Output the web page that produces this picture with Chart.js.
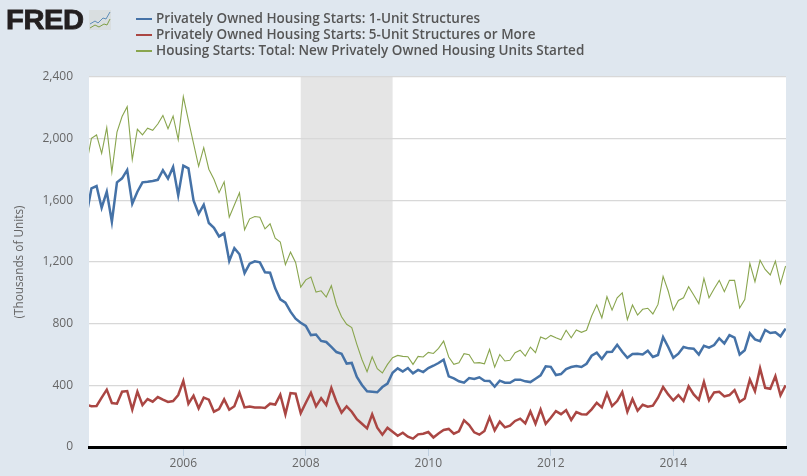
<!DOCTYPE html>
<html>
<head>
<meta charset="utf-8">
<title>Housing Starts</title>
<script src="https://cdn.jsdelivr.net/npm/chart.js@4"></script>
<style>
  html, body { margin: 0; padding: 0; background: #dfe7ef; }
  #wrap { position: relative; width: 807px; height: 476px; overflow: hidden; }
  #logo { position: absolute; left: 6px; top: 4px; font: bold 27.5px "Liberation Sans", sans-serif; color: #231f20; -webkit-text-stroke: 0.8px #231f20; transform: scaleX(1.06); transform-origin: left top; letter-spacing: -0.4px; }
  #logoIcon { position: absolute; left: 89px; top: 10px; }
  #legend { position: absolute; left: 136px; top: 10px; font: 600 13.5px/16px "Open Sans", sans-serif; color: #555; }
  #legend div { white-space: nowrap; height: 16px; }
  #legend i { display: inline-block; width: 16px; height: 2px; margin-right: 4px; vertical-align: 3px; }
</style>
</head>
<body>
<div id="wrap">
  <canvas id="chart" width="807" height="476"></canvas>
  <div id="logo">FRED</div>
  <svg id="logoIcon" width="22" height="20">
    <rect width="22" height="20" fill="#d9dee0"/>
    <polyline points="1,14 6,11 9,13 14,8 17,9 21,2" fill="none" stroke="#5d8db8" stroke-width="1"/>
    <polyline points="1,18 6,15 10,17 15,14 18,15 21,9" fill="none" stroke="#7f9e45" stroke-width="1"/>
  </svg>
  <div id="legend"></div>
</div>
<script>
// Months run from Jun 2004 to Nov 2015, one value per month (thousands of units)
const startYear = 2004;
const startMonth = 5;

const oneUnit = [
  1498, 1678, 1693, 1552, 1656, 1461, 1717,
  1743, 1797, 1578, 1656, 1717, 1721, 1726, 1733, 1795, 1741, 1816, 1632,
  1825, 1807, 1600, 1513, 1572, 1453, 1422, 1366, 1386, 1206, 1290, 1250,
  1128, 1189, 1204, 1198, 1133, 1130, 1029, 958, 936, 878, 832, 806,
  785, 726, 730, 688, 681, 649, 616, 605, 541, 545, 454, 402,
  361, 359, 355, 389, 411, 482, 510, 489, 512, 478, 500, 486,
  512, 527, 545, 566, 458, 445, 426, 417, 447, 441, 452, 430,
  428, 391, 430, 417, 417, 437, 437, 426, 421, 443, 465, 523,
  520, 467, 473, 506, 519, 525, 519, 540, 592, 612, 571, 616,
  618, 663, 618, 579, 603, 605, 600, 625, 584, 597, 713, 649,
  579, 605, 649, 640, 638, 600, 657, 644, 661, 705, 672, 726,
  709, 600, 628, 737, 698, 687, 759, 739, 744, 718, 768
];

const fiveUnit = [
  275, 264, 266, 320, 372, 285, 281,
  359, 363, 242, 359, 272, 311, 294, 324, 307, 292, 298, 337,
  428, 281, 333, 251, 320, 307, 229, 246, 309, 242, 264, 352,
  257, 262, 257, 257, 253, 281, 275, 339, 212, 350, 346, 220,
  287, 352, 264, 316, 272, 383, 294, 223, 264, 229, 180, 151,
  121, 212, 125, 80, 125, 99, 73, 93, 67, 54, 82, 86,
  97, 62, 88, 110, 117, 86, 102, 173, 143, 95, 80, 104,
  192, 108, 164, 127, 138, 169, 184, 153, 231, 151, 243, 150,
  190, 233, 213, 239, 175, 226, 213, 211, 244, 287, 257, 348,
  265, 298, 356, 229, 311, 235, 274, 261, 268, 320, 389, 341,
  302, 337, 298, 393, 341, 306, 423, 302, 354, 358, 328, 337,
  369, 293, 315, 438, 362, 510, 384, 378, 460, 335, 400
];

const totalStarts = [
  1829, 2002, 2024, 1905, 2072, 1782, 2042,
  2144, 2207, 1864, 2061, 2025, 2068, 2054, 2095, 2151, 2065, 2147, 1994,
  2273, 2119, 1969, 1821, 1942, 1802, 1737, 1650, 1720, 1491, 1570, 1649,
  1409, 1480, 1495, 1490, 1415, 1448, 1354, 1330, 1183, 1264, 1197, 1037,
  1084, 1103, 1005, 1013, 973, 1046, 923, 845, 796, 775, 666, 568,
  488, 585, 508, 480, 536, 579, 594, 588, 586, 536, 588, 584,
  614, 607, 640, 687, 584, 536, 547, 605, 599, 545, 547, 540,
  634, 518, 600, 558, 562, 612, 628, 590, 648, 612, 713, 700,
  724, 708, 696, 757, 709, 759, 744, 757, 850, 922, 838, 975,
  888, 968, 1000, 826, 921, 856, 893, 900, 863, 925, 1107, 1012,
  888, 951, 968, 1040, 986, 930, 1094, 968, 1027, 1081, 1007, 1081,
  1081, 901, 956, 1191, 1072, 1211, 1152, 1116, 1206, 1060, 1174
];

const xTickYears = [2006, 2008, 2010, 2012, 2014];
const yTicks = [0, 400, 800, 1200, 1600, 2000, 2400];
const recession = [2007.917, 2009.417];

const seriesNames = [
  'Privately Owned Housing Starts: 1-Unit Structures',
  'Privately Owned Housing Starts: 5-Unit Structures or More',
  'Housing Starts: Total: New Privately Owned Housing Units Started'
];
const seriesColors = ['#4572a7', '#aa4643', '#89a54e'];

function toPoints(values) {
  return values.map((v, i) => ({ x: startYear + (startMonth + i) / 12, y: v }));
}

// White plot area and the grey recession band, under the grid lines
const plotBackground = {
  id: 'plotBackground',
  beforeDraw(chart) {
    const { ctx, chartArea: a, scales } = chart;
    ctx.save();
    ctx.fillStyle = '#fff';
    ctx.fillRect(a.left, a.top, a.right - a.left, a.bottom - a.top);
    const x0 = scales.x.getPixelForValue(recession[0]);
    const x1 = scales.x.getPixelForValue(recession[1]);
    ctx.fillStyle = '#e5e5e5';
    ctx.fillRect(x0, a.top, x1 - x0, a.bottom - a.top);
    ctx.restore();
  }
};

const tickFont = { family: '"Open Sans", sans-serif', size: 12 };

const chart = new Chart(document.getElementById('chart'), {
  type: 'line',
  data: {
    datasets: [
      { label: seriesNames[0], data: toPoints(oneUnit), borderColor: seriesColors[0], borderWidth: 2.5 },
      { label: seriesNames[1], data: toPoints(fiveUnit), borderColor: seriesColors[1], borderWidth: 2.5 },
      { label: seriesNames[2], data: toPoints(totalStarts), borderColor: seriesColors[2], borderWidth: 1.1 }
    ]
  },
  options: {
    responsive: false,
    animation: false,
    layout: { padding: { top: 77, right: 21, left: 0, bottom: 0 } },
    elements: { point: { radius: 0 }, line: { tension: 0 } },
    plugins: { legend: { display: false }, tooltip: { enabled: false } },
    scales: {
      x: {
        type: 'linear',
        min: 2004.46,
        max: 2015.84,
        afterBuildTicks(axis) { axis.ticks = xTickYears.map(v => ({ value: v })); },
        afterFit(axis) { axis.height = 29; },
        grid: { drawOnChartArea: false, tickLength: 9, color: '#c0d0e0', lineWidth: 1 },
        border: { color: '#000', width: 3 },
        ticks: {
          color: '#666', font: tickFont, padding: 0, maxRotation: 0, autoSkip: false,
          callback: v => String(v)
        }
      },
      y: {
        min: 0,
        max: 2400,
        afterBuildTicks(axis) { axis.ticks = yTicks.map(v => ({ value: v })); },
        afterFit(axis) { axis.width = 89; },
        grid: { color: '#d8d8d8', lineWidth: 1.3, drawTicks: false },
        border: { display: false },
        ticks: {
          color: '#666', font: tickFont, padding: 16,
          callback: v => v.toLocaleString('en-US')
        },
        title: {
          display: true,
          text: '(Thousands of Units)',
          color: '#666',
          font: { family: '"Open Sans", sans-serif', size: 11.8 },
          padding: { top: 13, bottom: 0 }
        }
      }
    }
  },
  plugins: [plotBackground]
});

// Legend sits in one column beside the logo
const legendBox = document.getElementById('legend');
chart.data.datasets.forEach(ds => {
  const row = document.createElement('div');
  const swatch = document.createElement('i');
  swatch.style.background = ds.borderColor;
  row.appendChild(swatch);
  row.appendChild(document.createTextNode(ds.label));
  legendBox.appendChild(row);
});
</script>
</body>
</html>
